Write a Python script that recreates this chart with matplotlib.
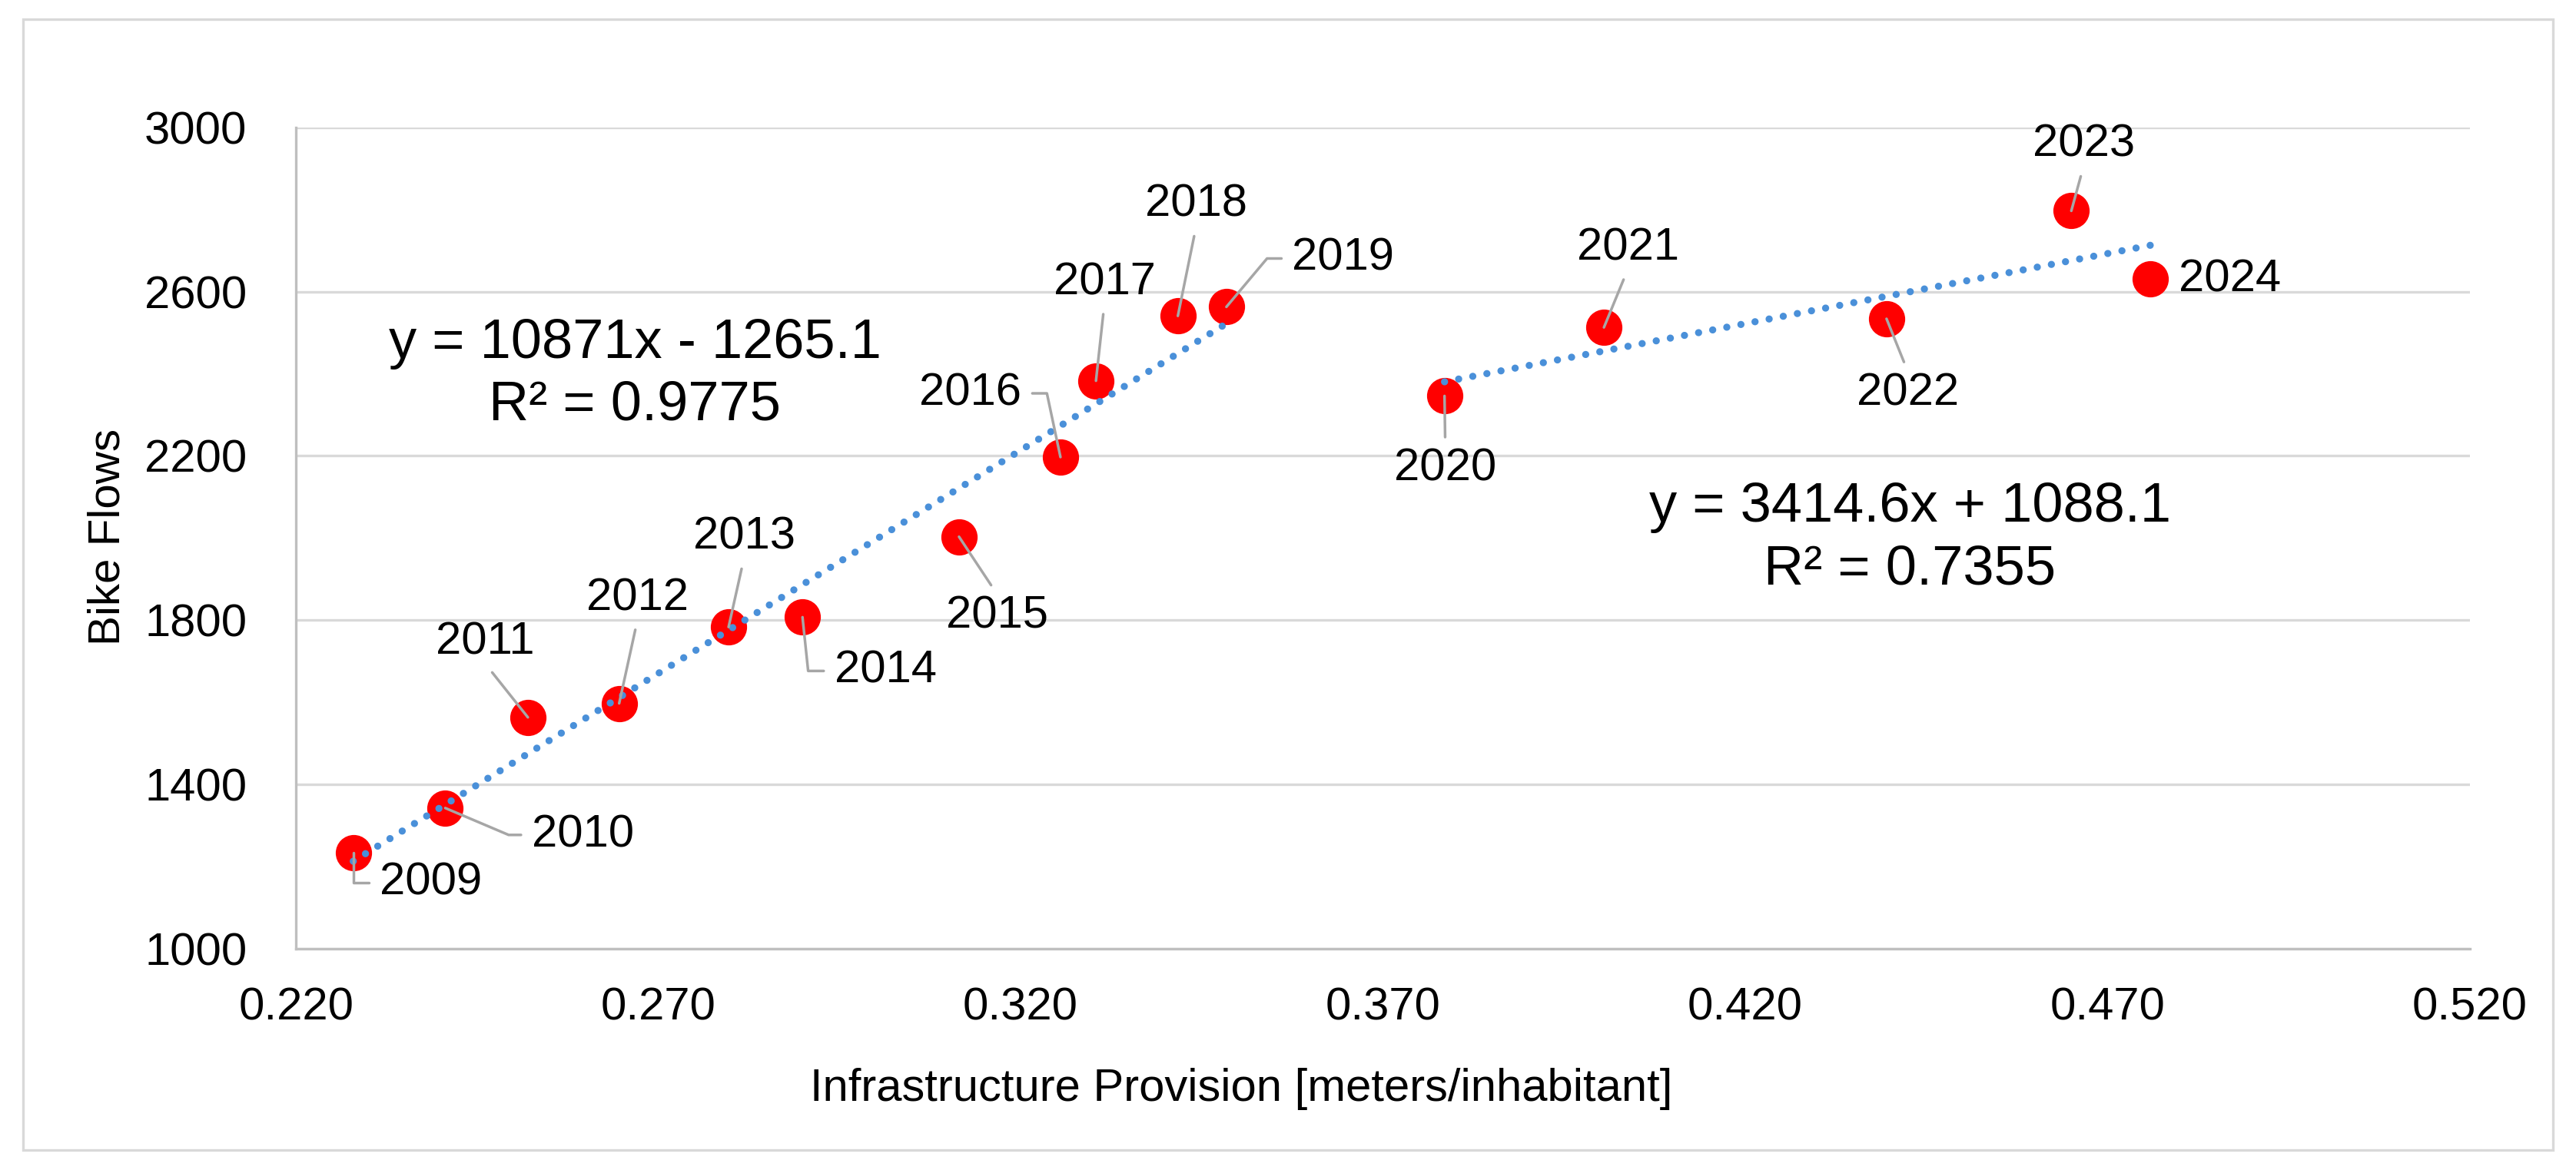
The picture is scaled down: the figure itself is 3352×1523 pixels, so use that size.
import numpy as np
import matplotlib
matplotlib.use("Agg")
import matplotlib.pyplot as plt
from matplotlib.patches import Rectangle

plt.rcParams['font.family'] = ['Liberation Sans', 'DejaVu Sans']

# data
years = [2009, 2010, 2011, 2012, 2013, 2014, 2015, 2016,
         2017, 2018, 2019, 2020, 2021, 2022, 2023, 2024]
infra = [0.2279, 0.2406, 0.2520, 0.2646, 0.2797, 0.2899, 0.3115, 0.3255,
         0.3304, 0.3417, 0.3484, 0.3785, 0.4005, 0.4395, 0.4650, 0.4759]
flows = [1234, 1342, 1563, 1597, 1783, 1807, 2003, 2197,
         2383, 2541, 2563, 2346, 2513, 2534, 2797, 2632]

# two trend lines (slope, intercept, r2) and which points they cover
trend_slopes = [10871, 3414.6]
trend_intercepts = [-1265.1, 1088.1]
trend_r2 = [0.9775, 0.7355]
trend_ranges = [(0, 11), (11, 16)]

x_ticks = [0.220, 0.270, 0.320, 0.370, 0.420, 0.470, 0.520]
y_ticks = [1000, 1400, 1800, 2200, 2600, 3000]

# label layout: offset in pixels (dx, dy), leader anchor on text, elbow angle
label_layout = {
    2009: ((101, -39), (0, 0.5), 90),
    2010: ((179, -35), (0, 0.5), -23),
    2011: ((-56, 98), (0.5, 0), None),
    2012: ((24, 137), (0.5, 0), None),
    2013: ((20, 117), (0.5, 0), None),
    2014: ((108, -70), (0, 0.5), -84),
    2015: ((50, -103), (0.5, 1), None),
    2016: ((-117, 83), (1, 0.5), 102),
    2017: ((11, 128), (0.5, 0), None),
    2018: ((24, 145), (0.5, 0), None),
    2019: ((152, 63), (0, 0.5), 50),
    2020: ((1, -95), (0.5, 1), None),
    2021: ((31, 103), (0.5, 0), None),
    2022: ((28, -97), (0.5, 1), None),
    2023: ((16, 86), (0.5, 0), None),
    2024: ((103, -1), None, None),
}
eq_positions = [(0.2668, 2398), (0.4427, 1998)]

fig = plt.figure(figsize=(16.76, 7.615), dpi=200)
ax = fig.add_axes([0.1149, 0.1894, 0.8439, 0.7016])

# outer chart border
fig.patches.append(Rectangle((0.00895, 0.01707), 0.98210, 0.96651,
                             transform=fig.transFigure, fill=False,
                             edgecolor='#D9D9D9', linewidth=1.2))

ax.scatter(infra, flows, s=17 ** 2, color='#FF0000', zorder=2, linewidths=0)

for yr, x, y in zip(years, infra, flows):
    (dx, dy), relpos, angle = label_layout[yr]
    if relpos is None:
        ax.annotate(str(yr), (x, y), xytext=(dx, dy), textcoords='offset pixels',
                    ha='center', va='center', fontsize=21.5, zorder=5)
        continue
    conn = 'arc3,rad=0' if angle is None else 'angle,angleA=0,angleB=%g,rad=0' % angle
    ax.annotate(str(yr), (x, y), xytext=(dx, dy), textcoords='offset pixels',
                ha='center', va='center', fontsize=21.5, zorder=5,
                arrowprops=dict(arrowstyle='-', color='#A6A6A6', lw=1.25,
                                shrinkA=3, shrinkB=0, relpos=relpos,
                                connectionstyle=conn, zorder=3))

# dotted trend lines
for (i0, i1), m, b, r2, (tx, ty) in zip(trend_ranges, trend_slopes, trend_intercepts,
                                         trend_r2, eq_positions):
    xs = np.array([min(infra[i0:i1]), max(infra[i0:i1])])
    ax.plot(xs, m * xs + b, color='#4A90D9', lw=3.35, linestyle=(0, (0.01, 2.0)),
            dash_capstyle='round', zorder=4)
    sign = '-' if b < 0 else '+'
    txt = 'y = %gx %s %g\nR² = %.4f' % (m, sign, abs(b), r2)
    ax.text(tx, ty, txt, ha='center', va='center', fontsize=26,
            linespacing=1.27, zorder=5)

ax.set_xlim(0.22, 0.52)
ax.set_ylim(1000, 3000)
ax.set_xticks(x_ticks)
ax.set_xticklabels(['%.3f' % v for v in x_ticks])
ax.set_yticks(y_ticks)
ax.tick_params(axis='both', length=0, labelsize=21.5, colors='black')
ax.tick_params(axis='x', pad=18)
ax.tick_params(axis='y', pad=23)

ax.grid(axis='y', color='#D9D9D9', lw=1.2, zorder=0)
ax.set_axisbelow(True)
for side in ['top', 'right']:
    ax.spines[side].set_visible(False)
for side in ['left', 'bottom']:
    ax.spines[side].set_color('#BFBFBF')
    ax.spines[side].set_linewidth(1.2)

ax.set_xlabel('Infrastructure Provision [meters/inhabitant]', fontsize=21.5)
ax.set_ylabel('Bike Flows', fontsize=21)
ax.xaxis.set_label_coords(0.435, -0.1458)
ax.yaxis.set_label_coords(-0.0771, 0.5014)

fig.savefig('out.png', dpi=200)
